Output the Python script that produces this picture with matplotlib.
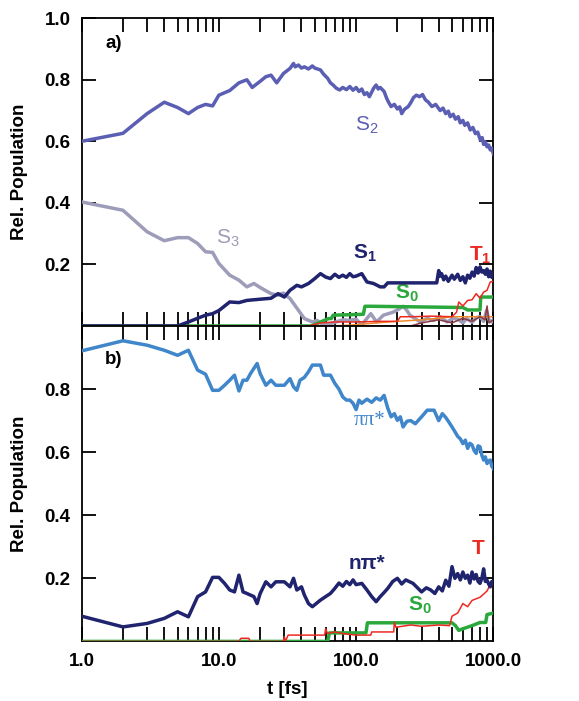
import matplotlib
matplotlib.use("Agg")
import matplotlib.pyplot as plt
from matplotlib.ticker import FixedLocator, FixedFormatter, LogLocator, NullFormatter

plt.rcParams['font.family'] = ['Liberation Sans', 'DejaVu Sans']
plt.rcParams['font.weight'] = 'bold'
plt.rcParams['mathtext.default'] = 'regular'

# ---- panel a) ----
s2_t = [1, 2, 3, 4, 5, 6, 7, 8, 9, 10, 12, 14, 16, 17.5, 20, 22, 24, 26.4, 29.5, 33, 35, 36, 38, 40,
        42, 45, 48, 50, 55, 58, 62, 65, 68, 72, 76, 80, 85, 90, 95, 100, 105, 110, 115, 120, 125,
        130, 134, 140, 145, 150, 160, 167, 172, 180, 190, 200, 208, 215, 225, 240, 250, 262, 275,
        290, 305, 320, 335, 357, 380, 410, 430, 450, 470, 485, 510, 530, 555, 574, 600, 620, 650,
        679, 710, 740, 770, 804, 830, 850, 875, 900, 925, 950, 975, 1000]
s2_v = [0.60, 0.626, 0.69, 0.727, 0.71, 0.69, 0.71, 0.72, 0.715, 0.75, 0.765, 0.79, 0.80, 0.775, 0.795,
        0.81, 0.815, 0.79, 0.82, 0.837, 0.853, 0.842, 0.848, 0.838, 0.842, 0.835, 0.845, 0.838, 0.832,
        0.818, 0.805, 0.79, 0.783, 0.772, 0.767, 0.775, 0.768, 0.778, 0.766, 0.775, 0.762, 0.77,
        0.752, 0.758, 0.745, 0.76, 0.772, 0.783, 0.77, 0.775, 0.762, 0.74, 0.728, 0.713, 0.72,
        0.705, 0.712, 0.69, 0.704, 0.713, 0.725, 0.742, 0.75, 0.745, 0.752, 0.735, 0.728, 0.713,
        0.72, 0.70, 0.708, 0.69, 0.698, 0.68, 0.688, 0.672, 0.68, 0.66, 0.668, 0.652, 0.66, 0.637,
        0.645, 0.625, 0.63, 0.604, 0.612, 0.59, 0.598, 0.582, 0.588, 0.572, 0.578, 0.56]

s3_t = [1, 2, 3, 4, 5, 6, 7, 8, 9, 10, 12, 14, 16, 18, 20, 24, 27, 29.5, 33, 38, 42, 48, 52, 56,
        62, 70, 80, 90, 100, 110, 128, 141, 158, 187, 205, 221, 235, 247, 293, 330, 366, 410, 460,
        510, 560, 600, 640, 700, 760, 804, 850, 893, 930, 975, 1000]
s3_v = [0.403, 0.376, 0.306, 0.277, 0.287, 0.287, 0.268, 0.241, 0.239, 0.203, 0.165, 0.149, 0.127,
        0.138, 0.125, 0.105, 0.10, 0.107, 0.089, 0.051, 0.024, 0.013, 0.018, 0.008, 0.004, 0.012,
        0.02, 0.018, 0.022, 0.004, 0.04, 0.013, 0.035, 0.045, 0.055, 0.064, 0.05, 0.035, 0.013,
        0.025, 0.018, 0.03, 0.013, 0.025, 0.02, 0.01, 0.024, 0.012, 0.028, 0.03, 0.015, 0.05, 0.02,
        0.013, 0.02]

s1_t = [1, 5, 6, 7, 8, 9, 10, 12, 14, 16, 20, 24, 27, 30, 33, 37, 40, 45, 50, 55, 60, 65, 70, 75,
        80, 85, 90, 95, 100, 110, 120, 134, 150, 160, 170, 387, 395, 400, 410, 420, 435, 450, 470,
        500, 520, 550, 575, 600, 625, 650, 675, 700, 725, 750, 775, 800, 825, 850, 875, 900, 925,
        950, 975, 1000]
s1_v = [0.0, 0.0, 0.013, 0.025, 0.035, 0.04, 0.05, 0.078, 0.076, 0.083, 0.087, 0.09, 0.105, 0.094,
        0.116, 0.132, 0.127, 0.138, 0.154, 0.17, 0.159, 0.154, 0.168, 0.158, 0.165, 0.158, 0.17,
        0.16, 0.162, 0.17, 0.143, 0.138, 0.127, 0.127, 0.14, 0.14, 0.165, 0.18, 0.162, 0.17, 0.15,
        0.162, 0.145, 0.165, 0.152, 0.168, 0.148, 0.16, 0.14, 0.165, 0.155, 0.175, 0.162, 0.19,
        0.172, 0.192, 0.175, 0.18, 0.168, 0.185, 0.16, 0.178, 0.158, 0.17]

s0a_t = [1, 47, 63, 66, 68, 113, 116, 128, 600, 650, 800, 810, 1000]
s0a_v = [0.0, 0.0, 0.024, 0.024, 0.035, 0.038, 0.064, 0.064, 0.06, 0.052, 0.052, 0.094, 0.094]

t1_t = [1, 45, 55, 70, 100, 150, 200, 210, 260, 350, 500, 540, 560, 600, 650, 700, 750, 800, 850,
        900, 950, 1000]
t1_v = [0.0, 0.0, 0.01, 0.013, 0.013, 0.015, 0.015, 0.03, 0.03, 0.032, 0.03, 0.045, 0.078, 0.065,
        0.083, 0.085, 0.105, 0.09, 0.11, 0.116, 0.143, 0.145]

ora_t = [1, 68, 100, 140, 200, 300, 400, 500, 700, 1000]
ora_v = [0.0, 0.0, 0.004, 0.01, 0.015, 0.02, 0.025, 0.03, 0.03, 0.03]

brn_t = [1, 250, 300, 400, 500, 600, 700, 800, 870, 900, 930, 1000]
brn_v = [0.0, 0.0, 0.01, 0.02, 0.01, 0.025, 0.015, 0.03, 0.02, 0.065, 0.01, 0.02]

# ---- panel b) ----
pp_t = [1, 2, 3, 4, 5, 6, 7, 8, 9, 10, 11, 12, 13, 14, 15, 16, 17, 19, 20, 22, 24, 26, 30, 33, 35,
        37, 39, 42, 45, 48, 55, 58, 65, 70, 75, 80, 85, 90, 95, 100, 105, 110, 120, 130, 140, 150,
        160, 170, 180, 190, 200, 210, 220, 235, 250, 270, 300, 330, 370, 400, 425, 450, 475, 500,
        525, 550, 575, 600, 625, 650, 675, 700, 725, 750, 775, 800, 825, 850, 875, 900, 925, 950,
        975, 1000]
pp_v = [0.921, 0.953, 0.939, 0.923, 0.907, 0.923, 0.86, 0.847, 0.796, 0.796, 0.812, 0.828, 0.844,
        0.794, 0.828, 0.828, 0.849, 0.881, 0.849, 0.812, 0.828, 0.812, 0.812, 0.833, 0.807, 0.796,
        0.828, 0.837, 0.855, 0.876, 0.876, 0.844, 0.844, 0.818, 0.8, 0.775, 0.765, 0.765, 0.755,
        0.735, 0.765, 0.755, 0.768, 0.758, 0.772, 0.765, 0.78, 0.74, 0.712, 0.722, 0.701, 0.712,
        0.68, 0.698, 0.70, 0.69, 0.712, 0.733, 0.733, 0.70, 0.722, 0.71, 0.695, 0.68, 0.665, 0.65,
        0.642, 0.627, 0.638, 0.612, 0.628, 0.623, 0.605, 0.596, 0.62, 0.617, 0.59, 0.575, 0.585,
        0.564, 0.572, 0.575, 0.555, 0.548]

np_t = [1, 2, 3, 4, 5, 6, 7, 8, 9, 10, 11, 12, 13, 14, 15, 16, 18, 19, 20, 22, 24, 26, 30, 33, 35,
        37, 40, 42, 45, 48, 55, 60, 65, 70, 75, 80, 85, 90, 95, 100, 110, 120, 130, 140, 150, 160,
        170, 185, 200, 215, 230, 260, 280, 300, 325, 350, 375, 400, 425, 450, 475, 500, 525, 550,
        575, 600, 625, 650, 675, 700, 725, 750, 775, 800, 825, 850, 875, 900, 925, 950, 975, 1000]
np_v = [0.08, 0.046, 0.057, 0.073, 0.094, 0.078, 0.142, 0.157, 0.203, 0.203, 0.184, 0.163, 0.157,
        0.21, 0.157, 0.152, 0.142, 0.12, 0.152, 0.189, 0.173, 0.189, 0.189, 0.173, 0.20, 0.163,
        0.173, 0.147, 0.12, 0.11, 0.131, 0.142, 0.152, 0.168, 0.185, 0.175, 0.19, 0.18, 0.195,
        0.18, 0.184, 0.163, 0.142, 0.126, 0.142, 0.155, 0.168, 0.19, 0.20, 0.182, 0.195, 0.184,
        0.17, 0.157, 0.17, 0.163, 0.152, 0.173, 0.16, 0.194, 0.175, 0.237, 0.2, 0.215, 0.195,
        0.22, 0.2, 0.21, 0.185, 0.22, 0.198, 0.212, 0.19, 0.184, 0.2, 0.23, 0.19, 0.194, 0.182,
        0.173, 0.19, 0.184]

s0b_t = [1, 62, 64, 118, 121, 500, 530, 560, 600, 700, 800, 880, 900, 1000]
s0b_v = [0.0, 0.0, 0.027, 0.027, 0.059, 0.059, 0.05, 0.035, 0.04, 0.05, 0.06, 0.06, 0.085, 0.09]

tb_t = [1, 14, 14.5, 16.5, 17, 29.5, 30, 30.5, 32, 59, 60, 62, 70, 80, 100, 128, 130, 188, 190, 195,
        250, 300, 400, 480, 500, 550, 600, 650, 700, 800, 850, 900, 950, 1000]
tb_v = [0.0, 0.0, 0.01, 0.01, 0.0, 0.0, 0.015, 0.0, 0.02, 0.02, 0.04, 0.025, 0.03, 0.025, 0.02,
        0.02, 0.03, 0.03, 0.06, 0.045, 0.052, 0.048, 0.052, 0.05, 0.08, 0.09, 0.12, 0.11, 0.13,
        0.14, 0.15, 0.16, 0.18, 0.19]

c_s2 = '#5b5fb4'
c_s3 = '#9d9cb9'
c_navy = '#20236e'
c_green = '#2aa83c'
c_red = '#ec2a22'
c_orange = '#f0892a'
c_brown = '#8c3a44'
c_pp = '#3f86cb'

fig = plt.figure(figsize=(5.79, 7.01), dpi=100)
ax1 = fig.add_axes([0.141, 0.535, 0.711, 0.439])
ax2 = fig.add_axes([0.141, 0.085, 0.711, 0.450])

thick = 2.5
thin = 1.1
ax1.plot(s3_t, s3_v, color=c_s3, lw=thick, zorder=3)
ax1.plot(s2_t, s2_v, color=c_s2, lw=thick, zorder=3)
ax1.plot(ora_t, ora_v, color=c_orange, lw=thin, zorder=4)
ax1.plot(brn_t, brn_v, color=c_brown, lw=thin, zorder=4)
ax1.plot(s0a_t, s0a_v, color=c_green, lw=thick, zorder=3)
ax1.plot(t1_t, t1_v, color=c_red, lw=thin, zorder=4)
ax1.plot(s1_t, s1_v, color=c_navy, lw=thick, zorder=5)

ax2.plot(pp_t, pp_v, color=c_pp, lw=thick, zorder=3)
ax2.plot(s0b_t, s0b_v, color=c_green, lw=thick, zorder=3)
ax2.plot(tb_t, tb_v, color=c_red, lw=thin, zorder=4)
ax2.plot(np_t, np_v, color=c_navy, lw=thick, zorder=5)

for ax in (ax1, ax2):
    ax.set_xscale('log')
    ax.set_xlim(1, 1000)
    ax.set_ylim(0, 1.0)
    ax.xaxis.set_minor_locator(LogLocator(base=10, subs=range(2, 10)))
    ax.xaxis.set_minor_formatter(NullFormatter())
    ax.tick_params(which='both', direction='in', top=True, right=True, length=10, width=1.3)
    ax.tick_params(axis='both', labelsize=13.5, pad=8)
    for sp in ax.spines.values():
        sp.set_linewidth(1.3)
    ax.set_ylabel('Rel. Population', fontsize=13.5, fontweight='bold', labelpad=12)

ax1.yaxis.set_major_locator(FixedLocator([0.2, 0.4, 0.6, 0.8, 1.0]))
ax1.yaxis.set_major_formatter(FixedFormatter(['0.2', '0.4', '0.6', '0.8', '1.0']))
ax1.tick_params(labelbottom=False)
ax2.yaxis.set_major_locator(FixedLocator([0.2, 0.4, 0.6, 0.8]))
ax2.yaxis.set_major_formatter(FixedFormatter(['0.2', '0.4', '0.6', '0.8']))
ax2.xaxis.set_major_locator(FixedLocator([1, 10, 100, 1000]))
ax2.xaxis.set_major_formatter(FixedFormatter(['1.0', '10.0', '100.0', '1000.0']))
ax2.set_xlabel('t [fs]', fontsize=13.5, fontweight='bold', labelpad=8)

lab = dict(fontsize=15, ha='center', va='center')
ax1.text(1.7, 0.918, 'a)', fontsize=13.5, fontweight='bold', ha='center', va='center')
ax1.text(119, 0.653, r'S$_2$', color=c_s2, fontweight='normal', **lab)
ax1.text(11.7, 0.284, r'S$_3$', color=c_s3, fontweight='normal', **lab)
ax1.text(116, 0.235, r'S$_1$', color=c_navy, fontweight='bold', **lab)
ax1.text(804, 0.23, r'T$_1$', color=c_red, fontweight='bold', **lab)
ax1.text(234, 0.105, r'S$_0$', color=c_green, fontweight='bold', **lab)

ax2.text(1.7, 0.894, 'b)', fontsize=13.5, fontweight='bold', ha='center', va='center')
ax2.text(125, 0.70, 'ππ*', color=c_pp, family=['Liberation Serif'], fontweight='normal', **lab)
ax2.text(119, 0.247, 'nπ*', color=c_navy, fontweight='bold', **lab)
ax2.text(779, 0.295, 'T', color=c_red, fontweight='bold', **lab)
ax2.text(293, 0.115, r'S$_0$', color=c_green, fontweight='bold', **lab)

fig.savefig('out.png', dpi=100)
